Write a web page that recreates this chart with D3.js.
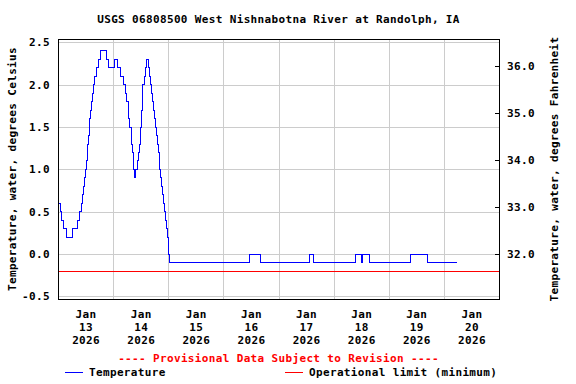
<!DOCTYPE html>
<html>
<head>
<meta charset="utf-8">
<script src="https://cdn.jsdelivr.net/npm/d3@7"></script>
<style>
body { margin: 0; background: #fff; }
text { font-family: "DejaVu Sans Mono", monospace; font-weight: bold; font-size: 11px; letter-spacing: 0.35px; }
</style>
</head>
<body>
<div id="chart-area"></div>
<script>
// hours after Jan 13 2026 00:00 where the reading changes, and the new reading (deg C)
let stepHours = [0, 0.4, 1.0, 1.5, 2.6, 3.5, 6.5, 8.7, 9.5, 10.2, 10.6, 11.0, 11.5, 12.0, 12.4, 12.8,
	13.0, 13.2, 13.5, 13.9, 14.3, 14.7, 15.0, 15.5, 16.0, 16.8, 17.7, 18.5, 21.3, 22.2, 24.8, 25.8,
	27.1, 28.3, 29.4, 30.0, 30.5, 30.9, 31.3, 31.8, 32.2, 32.6, 32.8, 33.0, 33.2, 33.5, 33.6, 33.9,
	34.4, 35.0, 35.5, 35.9, 36.3, 36.7, 37.0, 37.5, 37.9, 38.4, 39.4, 39.9, 40.3, 40.8, 41.3, 41.7,
	42.0, 42.4, 42.8, 43.2, 43.6, 44.0, 44.4, 44.8, 45.2, 45.6, 46.0, 46.5, 46.9, 47.3, 47.6, 48.0,
	48.3, 48.4, 83.5, 88.1, 109.6, 111.3, 129.7, 132.1, 132.5, 135.5, 153.4, 160.9, 173.9];
let stepTemps = [0.7, 0.6, 0.5, 0.4, 0.3, 0.2, 0.3, 0.4, 0.5, 0.6, 0.7, 0.8, 0.9, 1.0, 1.1, 1.2,
	1.3, 1.4, 1.5, 1.6, 1.7, 1.8, 1.9, 2.0, 2.1, 2.2, 2.3, 2.4, 2.3, 2.2, 2.3, 2.2,
	2.1, 2.0, 1.9, 1.8, 1.7, 1.6, 1.5, 1.4, 1.3, 1.2, 1.1, 1.0, 0.9, 1.0, 0.9, 1.0,
	1.1, 1.2, 1.3, 1.5, 1.7, 1.8, 2.0, 2.1, 2.2, 2.3, 2.2, 2.1, 2.0, 1.9, 1.8, 1.7,
	1.6, 1.5, 1.4, 1.3, 1.2, 1.1, 1.0, 0.9, 0.8, 0.7, 0.6, 0.5, 0.4, 0.3, 0.2, 0.1,
	0.0, -0.1, 0.0, -0.1, 0.0, -0.1, 0.0, -0.1, 0.0, -0.1, 0.0, -0.1, -0.1];

let limitTemp = -0.2;
let celsiusTicks = [-0.5, 0, 0.5, 1.0, 1.5, 2.0, 2.5];
let fahrenheitTicks = [32, 33, 34, 35, 36];
let dayLabels = ["13", "14", "15", "16", "17", "18", "19", "20"];

let startDate = new Date(2026, 0, 13);
let endDate = new Date(2026, 0, 21);

let margin = {top: 39, right: 77, bottom: 85, left: 58};
let width = 576 - margin.left - margin.right,
	height = 384 - margin.top - margin.bottom;

let tempData = stepHours.map((h, i) => ({
	date: new Date(startDate.getTime() + h * 3600e3),
	temp: stepTemps[i]
}));

let svg = d3.select("#chart-area")
	.append("svg")
	.attr("width", 576)
	.attr("height", 384);

let g = svg.append("g")
	.attr("transform", "translate(" + margin.left + "," + margin.top + ")");

let x = d3.scaleTime().domain([startDate, endDate]).range([0, width]);
let y = d3.scaleLinear().domain([-0.53, 2.54]).range([height, 0]);
let yF = d3.scaleLinear().domain([-0.53 * 1.8 + 32, 2.54 * 1.8 + 32]).range([height, 0]);

let fmt = v => d3.format(".1f")(v).replace("\u2212", "-");

// grid lines
g.append("g")
	.attr("class", "grid")
	.call(d3.axisLeft(y).tickValues(celsiusTicks).tickSize(-width).tickFormat(""))
	.call(s => s.select(".domain").remove());

g.append("g")
	.attr("class", "grid")
	.attr("transform", "translate(0," + height + ")")
	.call(d3.axisBottom(x).tickValues(d3.timeDay.range(d3.timeDay.offset(startDate, 1), endDate)).tickSize(-height).tickFormat(""))
	.call(s => s.select(".domain").remove());

g.selectAll(".grid line")
	.attr("stroke", "#cccccc")
	.attr("shape-rendering", "crispEdges");

// operational limit
g.append("line")
	.attr("x1", 0)
	.attr("x2", width)
	.attr("y1", y(limitTemp))
	.attr("y2", y(limitTemp))
	.attr("stroke", "#ff0000")
	.attr("shape-rendering", "crispEdges");

// temperature line
let line = d3.line()
	.x(d => x(d.date))
	.y(d => y(d.temp))
	.curve(d3.curveStepAfter);

g.append("path")
	.datum(tempData)
	.attr("d", line)
	.attr("fill", "none")
	.attr("stroke", "#0000ff")
	.attr("stroke-width", 1)
	.attr("shape-rendering", "crispEdges");

// frame
g.append("rect")
	.attr("width", width)
	.attr("height", height)
	.attr("fill", "none")
	.attr("stroke", "#000")
	.attr("shape-rendering", "crispEdges");

// left axis
let yAxisGroup = g.append("g")
	.call(d3.axisLeft(y).tickValues(celsiusTicks).tickSize(0).tickPadding(8).tickFormat(fmt));
yAxisGroup.select(".domain").remove();

// right axis (fahrenheit)
let yFAxisGroup = g.append("g")
	.attr("transform", "translate(" + width + ",0)")
	.call(d3.axisRight(yF).tickValues(fahrenheitTicks).tickSize(-4).tickPadding(8).tickFormat(fmt));
yFAxisGroup.select(".domain").remove();
yFAxisGroup.selectAll("line").attr("shape-rendering", "crispEdges");

// bottom axis, labels at noon
let noonTicks = dayLabels.map(d => new Date(2026, 0, +d, 12));
let xAxisGroup = g.append("g")
	.attr("transform", "translate(0," + height + ")")
	.call(d3.axisBottom(x).tickValues(noonTicks).tickSize(0).tickFormat(""));
xAxisGroup.select(".domain").remove();
xAxisGroup.selectAll(".tick text").each(function(d, i) {
	let t = d3.select(this).attr("y", null).attr("dy", null);
	["Jan", dayLabels[i], "2026"].forEach((s, k) => {
		t.append("tspan").attr("x", 0).attr("y", 19 + k * 13).text(s);
	});
});

svg.selectAll(".tick text").attr("fill", "#000");

// titles
svg.append("text")
	.attr("x", margin.left + width / 2)
	.attr("y", 23)
	.attr("text-anchor", "middle")
	.text("USGS 06808500 West Nishnabotna River at Randolph, IA");

svg.append("text")
	.attr("transform", "translate(16," + (margin.top + height / 2) + ") rotate(-90)")
	.attr("text-anchor", "middle")
	.text("Temperature, water, degrees Celsius");

svg.append("text")
	.attr("transform", "translate(558," + (margin.top + height / 2) + ") rotate(-90)")
	.attr("text-anchor", "middle")
	.text("Temperature, water, degrees Fahrenheit");

svg.append("text")
	.attr("x", margin.left + width / 2)
	.attr("y", 362)
	.attr("text-anchor", "middle")
	.attr("fill", "#ff0000")
	.text("---- Provisional Data Subject to Revision ----");

// legend
let legend = [
	{label: "Temperature", color: "#0000ff", x: 65},
	{label: "Operational limit (minimum)", color: "#ff0000", x: 285}
];
let legendItems = svg.selectAll(".legend")
	.data(legend)
	.enter()
	.append("g")
	.attr("class", "legend")
	.attr("transform", d => "translate(" + d.x + ",372)");
legendItems.append("line")
	.attr("x1", 0)
	.attr("x2", 18)
	.attr("stroke", d => d.color)
	.attr("shape-rendering", "crispEdges");
legendItems.append("text")
	.attr("x", 24)
	.attr("y", 4)
	.text(d => d.label);
</script>
</body>
</html>
